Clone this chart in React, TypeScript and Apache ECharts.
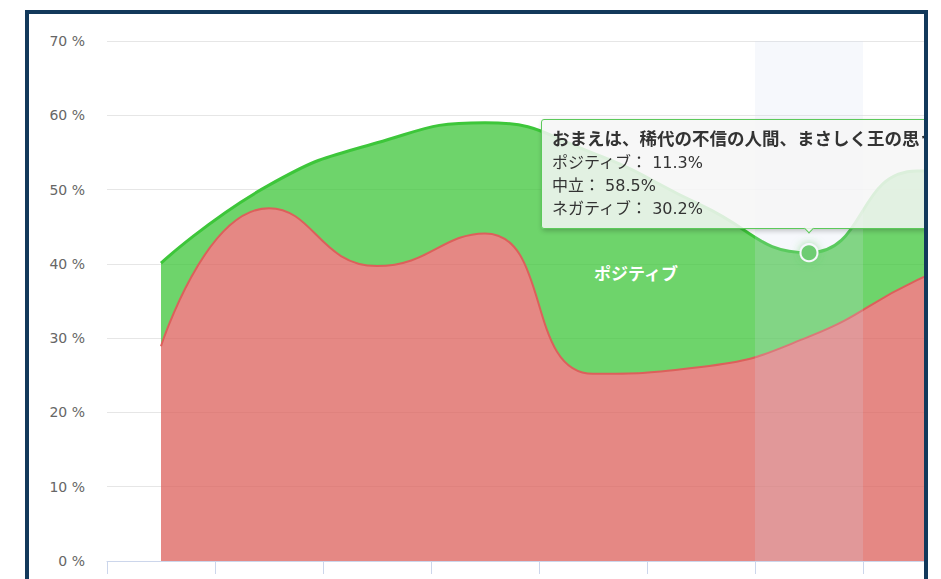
import React, { useEffect, useRef } from 'react';
import * as echarts from 'echarts';

const categories = [
  'メロスは激怒した。',
  '必ず、かの邪智暴虐の王を除かなければならぬと決意した。',
  'メロスには政治がわからぬ。',
  'けれども邪悪に対しては、人一倍に敏感であった。',
  '人を信ずる事が出来ぬというのは、これは私の罪だ。',
  '私は、約束を守ります。',
  'おまえは、稀代の不信の人間、まさしく王の思う壺だぞ、と自分を叱ってみるのだが',
  '信じられているから走るのだ。',
  'メロスは走った。',
];
const negative = [28.9, 47.5, 39.7, 44.1, 25.2, 26.1, 30.2, 37.8, 44.0];
const positive = [11.2, 3.1, 16.6, 14.9, 29.7, 21.8, 11.3, 14.7, 7.0];
const neutral = [59.9, 49.4, 43.7, 41.0, 45.1, 52.1, 58.5, 47.5, 49.0];
const seriesNames = { positive: 'ポジティブ', neutral: '中立', negative: 'ネガティブ' };
const hoverIndex = 6;
const areaLabel = 'ポジティブ';

const GREEN = '#3dc63a';
const RED = '#dc605b';

export default function App() {
  const ref = useRef<HTMLDivElement>(null);
  useEffect(() => {
    if (!ref.current) return;
    const chart = echarts.init(ref.current, null, { renderer: 'svg' });
    const fontLatin = '"DejaVu Sans", "Noto Sans CJK JP", sans-serif';
    chart.setOption({
      animation: false,
      backgroundColor: '#ffffff',
      grid: { left: 78, top: 27, right: 38, bottom: 73, containLabel: false },
      tooltip: {
        trigger: 'item',
        triggerOn: 'none',
        alwaysShowContent: true,
        showDelay: 0,
        transitionDuration: 0,
        position: 'top',
        backgroundColor: 'rgba(246,246,246,0.86)',
        borderColor: '#5cc95a',
        borderWidth: 1,
        padding: [8, 10],
        textStyle: { color: '#333333', fontSize: 16, fontFamily: fontLatin, lineHeight: 23 },
        extraCssText: 'box-shadow: 1px 2px 5px rgba(0,0,0,0.22); border-radius: 3px; margin-top:-4px;',
        formatter: (p: any) => {
          const i = p.dataIndex;
          return (
            `<div style="font-weight:bold;font-size:17.5px;line-height:23px;width:514px;overflow:hidden;white-space:nowrap;">${categories[i]}</div>` +
            `<div style="line-height:23px;">${seriesNames.positive}： ${positive[i].toFixed(1)}%</div>` +
            `<div style="line-height:23px;">${seriesNames.neutral}： ${neutral[i].toFixed(1)}%</div>` +
            `<div style="line-height:23px;">${seriesNames.negative}： ${negative[i].toFixed(1)}%</div>`
          );
        },
      },
      xAxis: {
        type: 'category',
        data: categories,
        boundaryGap: true,
        axisLine: { lineStyle: { color: '#ccd6eb', width: 1 } },
        axisTick: { show: true, interval: 0, length: 13, lineStyle: { color: '#ccd6eb' } },
        axisLabel: { show: false, interval: 0 },
        splitLine: { show: false },
        axisPointer: {
          show: true,
          type: 'shadow',
          value: hoverIndex,
          status: 'show',
          triggerTooltip: false,
          label: { show: false },
          shadowStyle: { color: 'rgba(210,219,238,0.2)' },
        },
      },
      yAxis: {
        type: 'value',
        min: 0,
        max: 70,
        interval: 10,
        axisLine: { show: false },
        axisTick: { show: false },
        axisLabel: {
          formatter: '{value} %',
          color: '#666666',
          fontSize: 14,
          fontFamily: fontLatin,
          margin: 22,
        },
        splitLine: { lineStyle: { color: '#e6e6e6', width: 1 } },
      },
      series: [
        {
          name: seriesNames.negative,
          type: 'line',
          stack: 'total',
          smooth: true,
          symbol: 'none',
          color: RED,
          lineStyle: { color: RED, width: 2 },
          areaStyle: { color: RED, opacity: 0.75 },
          data: negative,
        },
        {
          name: seriesNames.positive,
          type: 'line',
          stack: 'total',
          smooth: true,
          showSymbol: true,
          showAllSymbol: true,
          color: GREEN,
          lineStyle: { color: GREEN, width: 3 },
          areaStyle: { color: GREEN, opacity: 0.75 },
          itemStyle: {
            color: '#55c952',
            borderColor: '#ffffff',
            borderWidth: 2,
            shadowBlur: 8,
            shadowColor: 'rgba(61,198,58,0.55)',
          },
          data: positive.map((v, i) =>
            i === hoverIndex
              ? { value: v, symbol: 'circle', symbolSize: 17 }
              : { value: v, symbol: 'none' }
          ),
        },
      ],
      graphic: [
        {
          type: 'text',
          x: 607,
          y: 258,
          z: 100,
          style: {
            text: areaLabel,
            fill: '#ffffff',
            fontSize: 17,
            fontWeight: 'bold',
            fontFamily: '"Noto Sans CJK JP", sans-serif',
            align: 'center',
            verticalAlign: 'middle',
          },
        },
      ],
    });
    chart.dispatchAction({ type: 'showTip', seriesIndex: 1, dataIndex: hoverIndex });
    return () => chart.dispose();
  }, []);

  return (
    <div style={{ position: 'fixed', left: 0, top: 0, width: 941, height: 579, overflow: 'hidden', background: '#ffffff' }}>
      <div
        style={{
          position: 'absolute',
          left: 25,
          top: 10,
          width: 903,
          height: 640,
          boxSizing: 'border-box',
          border: '4px solid #12395b',
          overflow: 'hidden',
          background: '#ffffff',
        }}
      >
        <div ref={ref} style={{ position: 'relative', width: 1088, height: 620 }} />
      </div>
    </div>
  );
}
